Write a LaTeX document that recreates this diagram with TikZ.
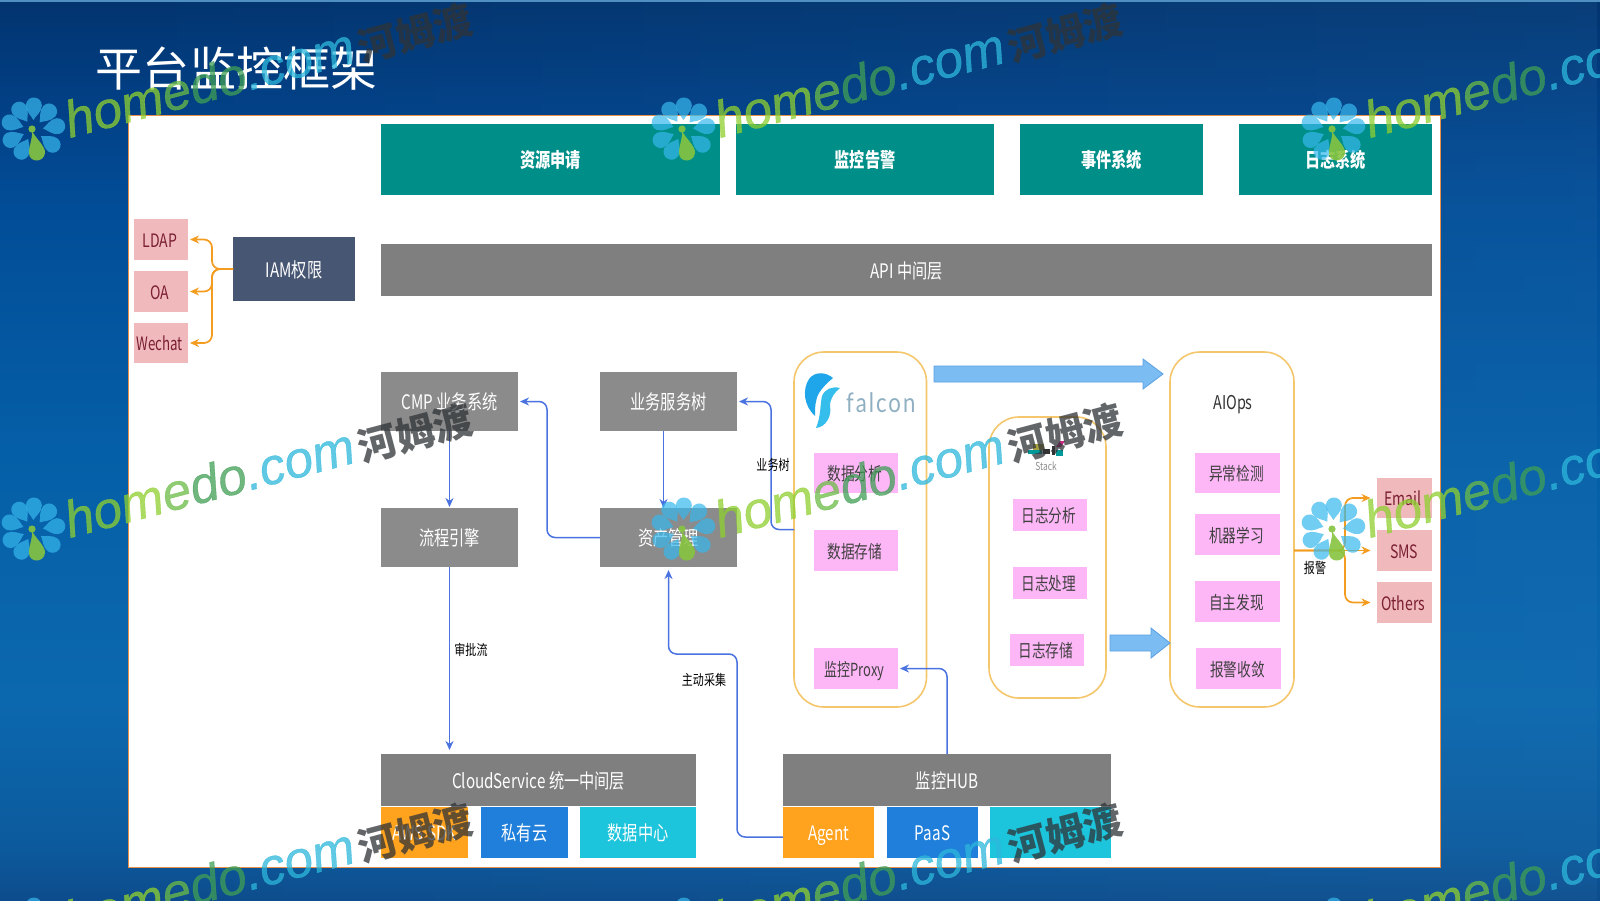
\documentclass[tikz,border=0pt]{standalone}
\usepackage{fontspec}
\usepackage{graphicx}
\usetikzlibrary{arrows.meta,fadings}
\setmainfont{Noto Sans CJK SC}
\newfontfamily\wmlatin[FakeBold=0.7]{Liberation Sans}
\newfontfamily\falconfont[LetterSpace=9]{Lato}
\definecolor{tealbox}{HTML}{008F88}
\definecolor{grayA}{HTML}{7F7F7F}
\definecolor{grayB}{HTML}{8B8B8B}
\definecolor{iamc}{HTML}{475673}
\definecolor{rosebox}{HTML}{F0B9BC}
\definecolor{rosetext}{HTML}{7A1F30}
\definecolor{pinkbox}{HTML}{FDB6F6}
\definecolor{orangebox}{HTML}{FFA31F}
\definecolor{bluebox}{HTML}{1F7FDA}
\definecolor{cyanbox}{HTML}{1CC4DC}
\definecolor{contour}{HTML}{F5C76D}
\definecolor{conn}{HTML}{4A72E0}
\definecolor{orline}{HTML}{F39C1F}
\definecolor{bigfill}{HTML}{7BBDF2}
\definecolor{bigline}{HTML}{5A9FE2}
\definecolor{panelline}{HTML}{E8904A}
\definecolor{wmA}{HTML}{8FD030}
\definecolor{wmB}{HTML}{6CBC46}
\definecolor{wmC}{HTML}{3F9F55}
\definecolor{wmD}{HTML}{2DB8DC}
\definecolor{wmK}{HTML}{2F3336}
\definecolor{wmP}{HTML}{37B8EE}
\definecolor{wmG}{HTML}{86C440}
\definecolor{falconA}{HTML}{1EA5EA}
\definecolor{falconB}{HTML}{35BDEB}
\definecolor{falconT}{HTML}{8FB0C2}
\definecolor{c0}{HTML}{0D4C8C}
\definecolor{c1}{HTML}{0C5A9D}
\definecolor{c2}{HTML}{0C68AE}
\definecolor{c3}{HTML}{055FA8}
\definecolor{c4}{HTML}{024C96}
\definecolor{c5}{HTML}{023F84}
\definecolor{c6}{HTML}{02346F}
\pgfdeclareverticalshading{bgshade}{100bp}{
  color(0bp)=(c0); color(25bp)=(c0); color(28bp)=(c1); color(36bp)=(c2); color(50bp)=(c3); color(64bp)=(c4); color(69.5bp)=(c5); color(75bp)=(c6); color(100bp)=(c6)}
\newcommand\sq[1]{\scalebox{0.76}[1]{\vphantom{中}\raisebox{-0.8pt}{\smash{#1}}}}
\newcommand\sqn[1]{\scalebox{0.72}[1]{\vphantom{中}\raisebox{-0.8pt}{\smash{#1}}}}
\newcommand\bx[7]{%
  \pgfmathsetmacro\bxw{#5-#3}\pgfmathsetmacro\bxh{#6-#4}%
  \pgfmathsetmacro\bxx{(#5+#3)/2}\pgfmathsetmacro\bxy{(#6+#4)/2}%
  \node[#2,minimum width=\bxw pt,minimum height=\bxh pt] (#1) at (\bxx,\bxy) {\sq{#7}};}
\newcommand\rb[7]{\bx{#1}{#2}{#3}{#4}{#5}{#6}{\hspace*{-3pt}#7}}
\newcommand\rn[7]{%
  \pgfmathsetmacro\bxw{#5-#3}\pgfmathsetmacro\bxh{#6-#4}%
  \pgfmathsetmacro\bxx{(#5+#3)/2}\pgfmathsetmacro\bxy{(#6+#4)/2}%
  \node[#2,minimum width=\bxw pt,minimum height=\bxh pt] (#1) at (\bxx,\bxy) {\sqn{\hspace*{-4pt}#7}};}
\newcommand\petal[1]{\fill[wmP,rotate=#1] (10,0) .. controls (14,-2) and (18,-8) .. (25,-8) .. controls (35,-7) and (35,7) .. (25,8) .. controls (18,8) and (14,2) .. (10,0) -- cycle;}
\newcommand\bigarr[4]{\filldraw[draw=bigline,fill=bigfill,line width=.8pt] (#1,#4-8) -- (#3,#4-8) -- (#3,#4-15) -- (#2,#4) -- (#3,#4+15) -- (#3,#4+8) -- (#1,#4+8) -- cycle;}
\newcommand\watermark[2]{%
  \begin{scope}[shift={(#1,#2)}]
    \begin{scope}[shift={(-37,-8)},opacity=.7]
      \foreach \a in {-37,-118,-156,-198,-236,-272,-311,-351}{\petal{\a}}
    \end{scope}
    \begin{scope}[shift={(-37,-8)},opacity=.9]
      \fill[wmG] (-1,-1) circle (3.6);
      \fill[wmG] (-1,0) .. controls (0,6) and (13,16) .. (12,23) .. controls (11,33) and (-4,33) .. (-4,23) .. controls (-4,15) and (0,8) .. (-1,0) -- cycle;
    \end{scope}
    \node[wmtext,anchor=base west] (wm#1#2) at (0,0) {\fontsize{51.5}{51.5}\wmlatin\itshape\selectfont\textcolor{wmA}{hom}\textcolor{wmB}{e}\textcolor{wmC}{do}\textcolor{wmD}{.com}};
    \node[wmtext,anchor=base west] (wk#1#2) at (292.5,-76) {\fontsize{39}{39}\bfseries\selectfont\textcolor{wmK}{河姆渡}};
  \end{scope}}
\tikzset{
  boxbase/.style={inner sep=0pt,outer sep=0pt,align=center,text=white},
  tealnode/.style={boxbase,fill=tealbox,font=\fontsize{20}{20}\bfseries\selectfont},
  graya/.style={boxbase,fill=grayA,font=\fontsize{20}{20}\selectfont},
  grayb/.style={boxbase,fill=grayB,font=\fontsize{20}{20}\selectfont},
  iamnode/.style={boxbase,fill=iamc,font=\fontsize{20}{20}\selectfont},
  rose/.style={boxbase,fill=rosebox,text=rosetext,font=\fontsize{18.5}{19}\selectfont},
  pink/.style={boxbase,fill=pinkbox,text=black!75,font=\fontsize{18}{19}\selectfont},
  orangenode/.style={boxbase,fill=orangebox,font=\fontsize{20}{20}\selectfont},
  bluenode/.style={boxbase,fill=bluebox,font=\fontsize{20}{20}\selectfont},
  cyannode/.style={boxbase,fill=cyanbox,font=\fontsize{20}{20}\selectfont},
  container/.style={boxbase,draw=contour,line width=1.6pt,rounded corners=30pt,fill=white},
  bluelink/.style={draw=conn,line width=1.5pt,rounded corners=8pt,-{Stealth[length=9pt,width=8pt]}},
  orangelink/.style={draw=orline,line width=1.7pt,rounded corners=8pt,-{Stealth[length=9pt,width=8pt]}},
  edgelabel/.style={inner sep=0pt,text=black,font=\fontsize{14.5}{15}\selectfont},
  wmtext/.style={inner sep=0pt,outer sep=0pt,rotate=14.8,opacity=.75},
}
\begin{document}
\begin{tikzpicture}[x=1pt,y=-1pt]
\useasboundingbox (0,0) rectangle (1600,900);
\begin{scope}
\clip (0,0) rectangle (1600,900);
\shade[shading=bgshade] (0,0) rectangle (1600,900);
\fill[c2!80!white,path fading=west,opacity=.12] (0,0) rectangle (1600,900);
\fill[c3!70!white] (0,0) rectangle (1600,1.5);
\node[inner sep=0pt,text=white,font=\fontsize{47}{47}\selectfont,anchor=center] (title) at (236,68.5) {平台监控框架};
\fill[white,draw=panelline,line width=1pt] (128.5,115) rectangle (1440,867);

\bx{t1}{tealnode}{381}{124}{720}{195}{资源申请}
\bx{t2}{tealnode}{736}{124}{994}{195}{监控告警}
\bx{t3}{tealnode}{1020}{124}{1203}{195}{事件系统}
\bx{t4}{tealnode}{1239}{124}{1432}{195}{日志系统}
\bx{api}{graya}{381}{244}{1432}{296}{API 中间层}

\rb{ldap}{rose}{134}{219}{188}{260}{LDAP}
\rb{oa}{rose}{134}{271}{188}{312}{OA}
\rn{wechat}{rose}{134}{323}{188}{363}{Wechat}
\bx{iam}{iamnode}{233}{237}{355}{301}{IAM权限}

\bx{cmp}{grayb}{381}{372}{518}{431}{CMP 业务系统}
\bx{biz}{grayb}{600}{372}{737}{431}{业务服务树}
\bx{flow}{grayb}{381}{508}{518}{567}{流程引擎}
\bx{asset}{grayb}{600}{508}{737}{567}{资产管理}

\bx{cloud}{graya}{381}{754}{696}{806}{CloudService 统一中间层}
\bx{sdk}{orangenode}{381}{807}{468}{858}{AWS SDK}
\bx{priv}{bluenode}{481}{807}{568}{858}{私有云}
\bx{dc}{cyannode}{580}{807}{696}{858}{数据中心}
\bx{hub}{graya}{783}{754}{1111}{806}{监控HUB}
\bx{agent}{orangenode}{783}{807}{874}{858}{Agent}
\bx{paas}{bluenode}{887}{807}{978}{858}{PaaS}
\bx{hubc}{cyannode}{990}{807}{1111}{858}{}

\bx{falcon}{container}{794}{352}{926.5}{707}{}
\bx{elk}{container}{989}{417}{1106}{698}{}
\bx{aiops}{container}{1170}{352}{1294}{707}{}

\rb{fa}{pink}{814}{453}{898}{493}{数据分析}
\rb{fb}{pink}{814}{530}{898}{571}{数据存储}
\rn{fc}{pink}{814}{648}{898}{689}{监控Proxy}
\rb{ea}{pink}{1013}{499}{1087}{531}{日志分析}
\rb{eb}{pink}{1013}{567}{1087}{599}{日志处理}
\rb{ec}{pink}{1010}{634}{1084}{666}{日志存储}
\node[inner sep=0pt,text=black!80,font=\fontsize{19}{19}\selectfont] (aiopstext) at (1233,401) {\sq{AIOps}};
\rb{aa}{pink}{1195}{453}{1280}{493}{异常检测}
\rb{ab}{pink}{1195}{514}{1280}{555}{机器学习}
\rb{ac}{pink}{1195}{581}{1280}{622}{自主发现}
\rb{ad}{pink}{1196}{648}{1281}{689}{报警收敛}
\rb{email}{rose}{1376.5}{478}{1432}{518}{Email}
\bx{sms}{rose}{1376.5}{530}{1432}{571}{SMS}
\rb{others}{rose}{1376.5}{582}{1432}{623}{Others}

% falcon logo
\fill[falconA] (833,378) .. controls (826,372) and (815,371) .. (809,379) .. controls (802,390) and (804,406) .. (815,416) .. controls (815,408) and (815,400) .. (819,393) .. controls (822,388) and (828,382) .. (833,378) -- cycle;
\fill[falconB] (840,388) .. controls (832,386) and (825,389) .. (822,396) .. controls (820,405) and (821,416) .. (816,428) .. controls (826,427) and (832,416) .. (830,406) .. controls (830,398) and (835,392) .. (840,388) -- cycle;
\node[inner sep=0pt,anchor=base west,text=falconT,font=\fontsize{27}{27}\falconfont\selectfont] (falcontext) at (846,412) {\scalebox{0.82}[1]{falcon}};

% elastic stack logo
\fill[yellow!60!black] (1033,444) rectangle (1044,450);
\fill[teal!80!cyan] (1028,450) rectangle (1042,454);
\fill[black!80] (1043,449) rectangle (1050,454);
\fill[magenta!80!black] (1056,447) -- (1060,441) -- (1065,441) -- (1061,447) -- cycle;
\fill[black!80] (1052,446) rectangle (1055,455);
\fill[teal!80!cyan] (1056,450) -- (1063,450) -- (1063,456) -- (1056,456) -- cycle;
\node[inner sep=0pt,text=black!45,font=\fontsize{11}{11}\selectfont] (stacktext) at (1046,466) {\sq{Stack}};

% big arrows
\bigarr{934}{1163}{1143}{374}
\bigarr{1110}{1170}{1151}{643}

% blue connectors
\coordinate (ca) at (547,537.5);
\coordinate (cb) at (771,529.5);
\coordinate (cc) at (737,837);
\coordinate (cd) at (668.5,654);
\draw[bluelink,shorten >=1pt] (cmp.south) -- (flow.north);
\draw[bluelink] ([xshift=-5pt]biz.south) -- ([xshift=-5pt]asset.north);
\draw[bluelink,shorten >=2pt] (asset.west) -- (ca) |- (cmp.east);
\draw[bluelink,shorten >=2pt] (falcon.west) -- (cb) |- (biz.east);
\draw[bluelink,shorten >=4pt] (flow.south) -- (cloud.north -| flow.south);
\draw[bluelink,shorten >=3pt] ([yshift=-4.5pt]agent.west) -- (cc) -- (cc |- cd) -- (cd) -- (asset.south);
\draw[bluelink,shorten >=2pt] (hub.north) |- (fc.east);

% orange connectors
\coordinate (fl) at (212,269);
\coordinate (fr) at (1345,550.5);
\draw[orangelink,shorten >=2pt] (iam.west) -- (fl) |- (ldap.east);
\draw[orangelink,shorten >=2pt] (iam.west) -- (fl) |- (oa.east);
\draw[orangelink,shorten >=2pt] (iam.west) -- (fl) |- (wechat.east);
\draw[orangelink,shorten >=6pt] (aiops.east |- sms.west) -- (sms.west);
\draw[orangelink,shorten >=6pt] (aiops.east |- sms.west) -- (fr) |- (email.west);
\draw[orangelink,shorten >=6pt] (aiops.east |- sms.west) -- (fr) |- (others.west);

% connector labels
\node[edgelabel] (l1) at (773,464) {\sq{业务树}};
\node[edgelabel] (l2) at (471,649) {\sq{审批流}};
\node[edgelabel] (l3) at (704,679) {\sq{主动采集}};
\node[edgelabel] (l4) at (1315,567) {\sq{报警}};

% watermarks
\foreach \wy in {138,538,938}{
  \foreach \wx in {70,720,1370}{
    \watermark{\wx}{\wy}
  }
}
\end{scope}
\end{tikzpicture}
\end{document}
